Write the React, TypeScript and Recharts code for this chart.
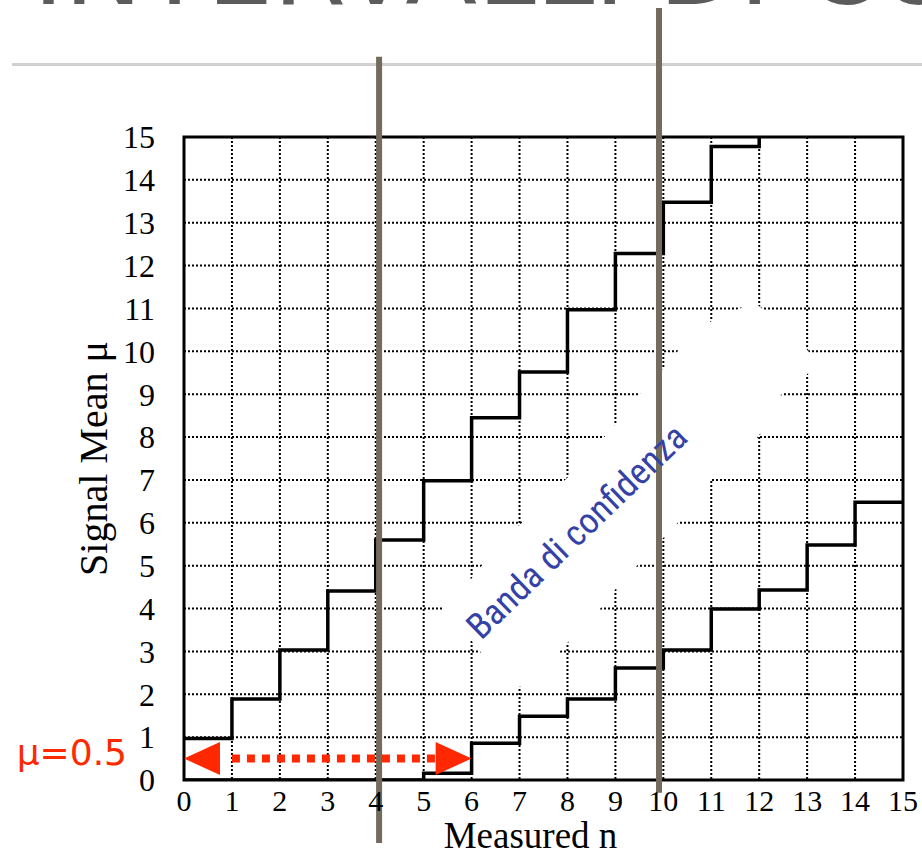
import React from 'react';
import {
  ComposedChart,
  Line,
  Area,
  XAxis,
  YAxis,
  CartesianGrid,
  ReferenceLine,
  ReferenceArea,
  ReferenceDot,
} from 'recharts';

// ---- data ----
const measuredN = [0, 1, 2, 3, 4, 5, 6, 7, 8, 9, 10, 11, 12, 13, 14, 15];
// upper edge of the belt: value holds from n to n+1
const upperLimit = [0.97, 1.89, 3.03, 4.41, 5.6, 6.98, 8.45, 9.52, 10.97, 12.28, 13.48, 14.78, 15, null, null, null];
// lower edge of the belt
const lowerLimit = [0, 0, 0, 0, 0, 0.16, 0.86, 1.49, 1.89, 2.61, 3.03, 3.99, 4.43, 5.48, 6.48, 6.48];
const xTicks = [0, 1, 2, 3, 4, 5, 6, 7, 8, 9, 10, 11, 12, 13, 14, 15];
const yTicks = [0, 1, 2, 3, 4, 5, 6, 7, 8, 9, 10, 11, 12, 13, 14, 15];

// white patch behind the "Banda di confidenza" label (n, low mu, high mu)
const maskN = [5.4, 5.5, 6.0, 6.25, 6.9, 7.1, 7.8, 8.0, 8.65, 9.0, 9.45, 9.6, 10.0, 10.3, 11.0, 11.9, 12.1, 12.4, 12.8, 13.1];
const maskLow = [3.95, 3.8, 3.25, 2.9, 2.15, 2.2, 2.95, 3.2, 3.95, 4.45, 5.0, 5.2, 5.65, 6.0, 7.0, 7.9, 8.2, 8.95, 9.2, 9.6];
const maskHigh = [4.05, 4.25, 4.7, 5.05, 5.85, 6.05, 6.85, 7.05, 7.85, 8.3, 8.95, 9.1, 9.6, 10.0, 10.7, 11.15, 10.95, 10.6, 10.3, 9.9];

// vertical markers (measured n) and their extents in mu
const markerN = [4.07, 9.91];
const markerTop = [16.87, 18.01];
const markerBottom = [-1.47, -0.3];

// example interval at mu = 0.5
const exampleMu = 0.5;
const exampleFromN = 0;
const exampleToN = 6;
const exampleDashFrom = 1.0;
const exampleDashTo = 5.3;

const bandLabelN = 8.37;
const bandLabelMu = 5.59;

const upperData = measuredN.map((n, i) => ({ n, mu: upperLimit[i] }));
const lowerData = measuredN.map((n, i) => ({ n, mu: lowerLimit[i] }));
const maskData = maskN.map((n, i) => ({ n, band: [maskLow[i], maskHigh[i]] }));

const RED = '#ff2800';
const GREY = '#736c5d';
const SERIF = '"Liberation Serif", "Times New Roman", serif';

const xTickStyle = { fontFamily: SERIF, fontSize: 30, fill: '#000' };
const yTickStyle = { fontFamily: SERIF, fontSize: 32, fill: '#000' };

const XTitle = (props: any) => {
  const vb = props.viewBox || { x: 184, y: 780, width: 719, height: 30 };
  return (
    <text
      x={vb.x + vb.width / 2 - 13}
      y={vb.y + 68}
      textAnchor="middle"
      fontFamily={SERIF}
      fontSize={37}
      fill="#000"
    >
      Measured n
    </text>
  );
};

const YTitle = (props: any) => {
  const vb = props.viewBox || { x: 124, y: 137, width: 60, height: 643 };
  const cx = vb.x - 17;
  const cy = vb.y + vb.height / 2;
  return (
    <text
      x={cx}
      y={cy}
      transform={`rotate(-90 ${cx} ${cy})`}
      textAnchor="middle"
      fontFamily={SERIF}
      fontSize={40}
      fill="#000"
    >
      Signal Mean μ
    </text>
  );
};

const LeftHead = (p: any) => (
  <g>
    <polygon
      points={`${p.cx},${p.cy} ${p.cx + 36},${p.cy - 16.5} ${p.cx + 36},${p.cy + 16.5}`}
      fill={RED}
    />
    <text
      x={p.cx - 57}
      y={p.cy + 6.5}
      textAnchor="end"
      fontFamily='"DejaVu Sans", sans-serif'
      fontSize={36}
      fill={RED}
    >
      μ=0.5
    </text>
  </g>
);

const RightHead = (p: any) => (
  <polygon
    points={`${p.cx},${p.cy} ${p.cx - 36},${p.cy - 16.5} ${p.cx - 36},${p.cy + 16.5}`}
    fill={RED}
  />
);

const BandLabel = (p: any) => (
  <text
    x={p.cx}
    y={p.cy}
    transform={`rotate(-44 ${p.cx} ${p.cy})`}
    textAnchor="middle"
    fontFamily='"Liberation Sans Narrow", "Roboto Condensed", Roboto, sans-serif'
    fontSize={36}
    textLength={290}
    lengthAdjust="spacingAndGlyphs"
    fill="#3442a8"
  >
    Banda di confidenza
  </text>
);

export default function App() {
  return (
    <div style={{ position: 'absolute', left: 0, top: 0, width: 922, height: 856, overflow: 'hidden', background: '#fff' }}>
      <svg width={922} height={10} style={{ position: 'absolute', left: 0, top: 0 }}>
        <text
          x={33}
          y={4}
          fontFamily='"DejaVu Sans", sans-serif'
          fontSize={105}
          fill="#5c5c5c"
        >
          INTERVALLI DI CONFIDENZA
        </text>
      </svg>
      <div style={{ position: 'absolute', left: 12, top: 63, width: 910, height: 3, background: '#d0d0d0' }} />
      <div style={{ position: 'absolute', left: 0, top: 0 }}>
        <ComposedChart width={922} height={856} margin={{ top: 137, right: 19, bottom: 46, left: 124 }}>
          <CartesianGrid stroke="#000" strokeWidth={2} strokeDasharray="2 2" />
          <XAxis
            dataKey="n"
            type="number"
            domain={[0, 15]}
            ticks={xTicks}
            allowDataOverflow
            axisLine={false}
            tickLine={false}
            tickSize={0}
            tickMargin={10}
            height={30}
            interval={0}
            tick={xTickStyle}
            label={{ value: 'Measured n', content: XTitle }}
          />
          <YAxis
            type="number"
            domain={[0, 15]}
            ticks={yTicks}
            allowDataOverflow
            axisLine={false}
            tickLine={false}
            tickSize={0}
            tickMargin={29}
            width={60}
            interval={0}
            tick={yTickStyle}
            label={{ value: 'Signal Mean μ', content: YTitle }}
          />
          <Area
            data={maskData}
            dataKey="band"
            type="linear"
            stroke="none"
            fill="#fff"
            fillOpacity={1}
            isAnimationActive={false}
            zIndex={100}
          />
          <Line
            data={upperData}
            dataKey="mu"
            type="stepAfter"
            stroke="#000"
            strokeWidth={3.5}
            dot={false}
            activeDot={false}
            isAnimationActive={false}
            zIndex={400}
          />
          <Line
            data={lowerData}
            dataKey="mu"
            type="stepAfter"
            stroke="#000"
            strokeWidth={3.5}
            dot={false}
            activeDot={false}
            isAnimationActive={false}
            zIndex={400}
          />
          <ReferenceArea
            x1={0}
            x2={15}
            y1={0}
            y2={15}
            fill="none"
            fillOpacity={0}
            stroke="#000"
            strokeWidth={3}
            ifOverflow="visible"
            zIndex={450}
          />
          <ReferenceLine
            segment={[{ x: exampleDashFrom, y: exampleMu }, { x: exampleDashTo, y: exampleMu }]}
            stroke={RED}
            strokeWidth={8}
            strokeDasharray="8 7"
            ifOverflow="visible"
            zIndex={500}
          />
          <ReferenceDot x={exampleFromN} y={exampleMu} r={0} ifOverflow="visible" shape={LeftHead} zIndex={600} />
          <ReferenceDot x={exampleToN} y={exampleMu} r={0} ifOverflow="visible" shape={RightHead} zIndex={600} />
          {markerN.map((n, i) => (
            <ReferenceLine
              key={i}
              segment={[{ x: n, y: markerBottom[i] }, { x: n, y: markerTop[i] }]}
              stroke={GREY}
              strokeWidth={6}
              ifOverflow="visible"
              zIndex={700}
            />
          ))}
          <ReferenceDot x={bandLabelN} y={bandLabelMu} r={0} ifOverflow="visible" shape={BandLabel} zIndex={800} />
        </ComposedChart>
      </div>
    </div>
  );
}
